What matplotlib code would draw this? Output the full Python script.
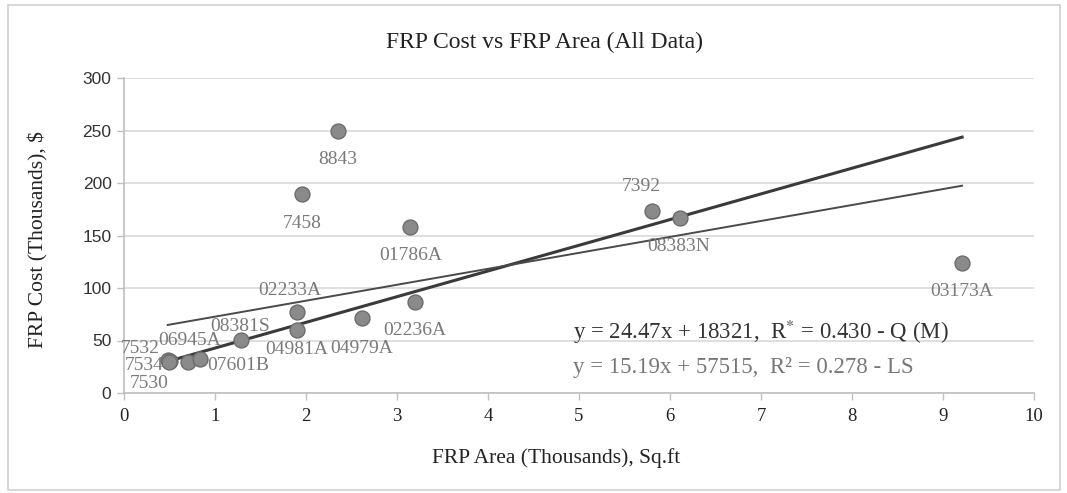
import matplotlib
matplotlib.use("Agg")
import matplotlib.pyplot as plt
import numpy as np
from matplotlib.patches import Rectangle

# project ids, FRP area (thousand sq.ft) and FRP cost (thousand $)
projects = ["7532", "7534", "7530", "06945A", "07601B", "08381S", "02233A",
            "04981A", "04979A", "02236A", "8843", "7458", "01786A", "7392",
            "08383N", "03173A"]
area = [0.48, 0.50, 0.49, 0.70, 0.84, 1.29, 1.90, 1.90, 2.62, 3.20,
        2.35, 1.96, 3.14, 5.80, 6.11, 9.21]
cost = [31.0, 30.5, 30.0, 29.5, 32.4, 50.5, 77.0, 60.0, 71.4, 86.7,
        249.5, 189.5, 158.0, 173.0, 166.7, 124.0]

# fitted trend lines (cost in $ vs area in sq.ft)
fit_names = ["Q (M)", "LS"]
fit_slope = [24.47, 15.19]
fit_icept = [18321, 57515]
fit_r = ["0.430", "0.278"]

# label offsets in pixels from each marker
label_off = [(-27, 12), (-25, -5), (-19, -22), (2, 22), (38, -7), (-1, 13),
             (-7, 22), (0, -20), (-1, -30), (0, -29), (0, -28), (0, -29),
             (1, -28), (-10, 25), (-1, -29), (0, -29)]

SERIF = "Liberation Serif"
SANS = "Liberation Sans"
plt.rcParams["mathtext.fontset"] = "stix"

fig = plt.figure(figsize=(10.67, 4.93), dpi=100)
fig.patch.set_facecolor("white")
fig.patches.append(Rectangle((8 / 1067, 3 / 493), 1052 / 1067, 485 / 493,
                             transform=fig.transFigure, fill=False,
                             edgecolor="#d0d0d0", linewidth=1.2))

ax = fig.add_axes([124 / 1067, 100 / 493, 910 / 1067, 315 / 493])
ax.set_xlim(0, 10)
ax.set_ylim(0, 300)
ax.set_xticks(range(0, 11))
ax.set_yticks(range(0, 301, 50))
ax.grid(axis="y", color="#d9d9d9", linewidth=1.2)
ax.set_axisbelow(True)
for side in ("top", "right"):
    ax.spines[side].set_visible(False)
for side in ("left", "bottom"):
    ax.spines[side].set_color("#bfbfbf")
    ax.spines[side].set_linewidth(1.2)
ax.tick_params(axis="both", color="#bfbfbf", length=5, width=1)
ax.tick_params(axis="x", labelcolor="#222222", pad=6)
ax.tick_params(axis="y", labelcolor="#333333", pad=4)
for t in ax.get_xticklabels():
    t.set_fontfamily(SERIF)
    t.set_fontsize(13.5)
for t in ax.get_yticklabels():
    t.set_fontfamily(SANS)
    t.set_fontsize(12.5)

# trend lines across the data range
xs = np.array([min(area), max(area)])
line_style = [dict(color="#3a3a3a", linewidth=2.2),
              dict(color="#4a4a4a", linewidth=1.4)]
for m, b, st in zip(fit_slope, fit_icept, line_style):
    ax.plot(xs, m * xs + b / 1000, zorder=2, **st)

ax.scatter(area, cost, s=115, color="#8a8a8a", edgecolors="#6c6c6c",
           linewidths=1, zorder=3)

for name, x, y, (dx, dy) in zip(projects, area, cost, label_off):
    ax.annotate(name, (x, y), xytext=(dx, dy), textcoords="offset pixels",
                ha="center", va="center", fontsize=14, family=SERIF,
                color="#7a7a7a", zorder=4)

eq_y = [332, 367]
eq_col = ["#333333", "#777777"]
sup = ["$^{*}$", "²"]
for m, b, r, nm, yy, c, s in zip(fit_slope, fit_icept, fit_r, fit_names,
                                  eq_y, eq_col, sup):
    fig.text(573 / 1067, 1 - yy / 493,
             f"y = {m:.2f}x + {b},  R{s} = {r} - {nm}",
             ha="left", va="center", fontsize=16.5, family=SERIF, color=c)

fig.text(545 / 1067, 1 - 42 / 493, "FRP Cost vs FRP Area (All Data)",
         ha="center", va="center", fontsize=17, family=SERIF, color="#222222")
fig.text(556 / 1067, 1 - 458 / 493, "FRP Area (Thousands), Sq.ft",
         ha="center", va="center", fontsize=15.5, family=SERIF, color="#222222")
fig.text(38 / 1067, 1 - 240 / 493, "FRP Cost (Thousands), $", rotation=90,
         ha="center", va="center", fontsize=15.5, family=SERIF, color="#222222")

fig.savefig("out.png", dpi=100, facecolor="white")
plt.close(fig)
